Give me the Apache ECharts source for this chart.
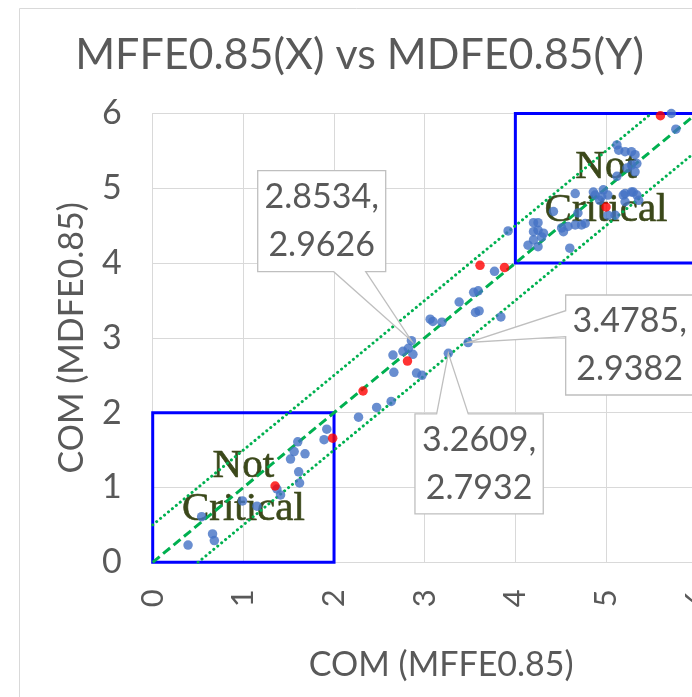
<!DOCTYPE html>
<html><head><meta charset="utf-8">
<script src="https://cdn.jsdelivr.net/npm/echarts@6/dist/echarts.min.js"></script>
<style>html,body{margin:0;padding:0;background:#fff}#c{width:692px;height:697px}</style>
</head><body><div id="c"></div>
<script>
// ---- data ----
const blueX = [0.39,0.66,0.68,0.54,0.99,1.15,1.41,1.37,1.62,1.61,1.52,1.56,1.68,1.60,1.89,1.92,
  2.27,2.47,2.63,2.66,2.65,2.76,2.82,2.87,2.8534,2.91,2.97,3.06,3.09,3.19,3.2609,3.4785,3.38,3.54,3.59,3.56,3.60,3.84,3.77,3.92,
  4.14,4.25,4.20,4.20,4.25,4.31,4.29,4.20,4.25,4.42,4.51,4.53,4.58,4.66,4.73,4.77,4.69,4.66,4.86,4.88,4.60,4.93,4.95,4.97,
  5.02,5.19,5.21,5.28,5.34,5.21,5.30,5.36,5.02,5.10,5.12,5.14,5.21,5.28,5.32,5.34,5.28,5.23,5.32,5.12,5.72,5.77];
const blueY = [0.23,0.38,0.29,0.61,0.82,0.75,0.90,0.98,1.06,1.21,1.38,1.48,1.45,1.61,1.64,1.78,
  1.94,2.07,2.15,2.54,2.77,2.82,2.86,2.78,2.9626,2.53,2.50,3.25,3.22,3.21,2.7932,2.9382,3.48,3.61,3.63,3.34,3.36,3.28,3.89,4.43,
  4.24,4.22,4.31,4.42,4.44,4.40,4.35,4.54,4.54,4.69,4.47,4.42,4.49,4.51,4.51,4.53,4.67,4.93,4.95,4.91,4.20,4.84,4.89,4.98,
  4.91,4.91,4.82,4.95,4.91,4.93,4.95,4.84,4.64,4.64,5.58,5.51,5.49,5.49,5.45,5.33,5.31,5.27,5.22,5.16,6.00,5.79];
const redX = [1.35,1.985,2.32,2.81,3.61,3.88,5.00,5.60];
const redY = [1.02,1.66,2.29,2.69,3.97,3.94,4.75,5.97];
const calloutX = [2.8534,3.2609,3.4785];
const calloutY = [2.9626,2.7932,2.9382];
const diagLine = [[0,0],[6,6]];
const upperBand = [[0,0.5],[5.5,6]];
const lowerBand = [[0.5,0],[6,5.5]];
const zoneX0 = [0,4], zoneY0 = [0,4], zoneX1 = [2,6], zoneY1 = [2,6];
const zoneText = 'Not\nCritical';
const axisMin = 0, axisMax = 6, axisStep = 1;
const titleText = 'MFFE0.85(X) vs MDFE0.85(Y)';
const xName = 'COM (MFFE0.85)', yName = 'COM (MDFE0.85)';

// ---- layout of callout boxes (pixel offsets from their point) ----
const calloutLayout = [
  {dx:-153.7, dy:-170, w:128, h:101, side:'bottom', a:76, b:108},
  {dx:-33.4, dy:60.6, w:128.3, h:100, side:'top', a:21.7, b:53.3},
  {dx:97.6, dy:-47.5, w:128, h:100, side:'left', a:15.7, b:41.7}
];

const FONT = 'Lato, "Open Sans", sans-serif';
const GREY = '#595959';

const blueData = blueX.map((x,i)=>[x, blueY[i]]);
const redData = redX.map((x,i)=>[x, redY[i]]);
const calloutData = calloutX.map((x,i)=>[x, calloutY[i]]);
const zoneData = zoneX0.map((x,i)=>[x, zoneY0[i], zoneX1[i], zoneY1[i]]);

const chart = echarts.init(document.getElementById('c'), null, {renderer:'canvas'});
chart.setOption({
  animation:false,
  backgroundColor:'#fff',
  graphic:[
    {type:'rect', shape:{x:19.5, y:8.5, width:720, height:720}, style:{fill:'none', stroke:'#d9d9d9', lineWidth:1}, silent:true, z:-1},
    {type:'text', x:359.5, y:55, silent:true, z:10, style:{text:titleText, fontFamily:FONT, fontSize:43, fill:GREY, align:'center', verticalAlign:'middle'}}
  ],
  grid:{left:152.7, top:113.5, width:544, height:448.8, containLabel:false, outerBoundsMode:'none'},
  xAxis:{type:'value', min:axisMin, max:axisMax, interval:axisStep,
    axisLine:{show:true, lineStyle:{color:'#d9d9d9', width:1}}, axisTick:{show:false},
    splitLine:{show:true, lineStyle:{color:'#d9d9d9', width:1}},
    axisLabel:{rotate:90, margin:27, fontSize:31, color:GREY, fontFamily:FONT, showMaxLabel:true},
    name:xName, nameLocation:'middle', nameGap:86,
    nameTextStyle:{fontFamily:FONT, fontSize:34, color:GREY, padding:[0,0,0,33]}},
  yAxis:{type:'value', min:axisMin, max:axisMax, interval:axisStep,
    axisLine:{show:true, lineStyle:{color:'#d9d9d9', width:1}}, axisTick:{show:false},
    splitLine:{show:true, lineStyle:{color:'#d9d9d9', width:1}},
    axisLabel:{margin:31, fontSize:34, color:GREY, fontFamily:FONT, showMaxLabel:true},
    name:yName, nameLocation:'middle', nameGap:64, nameRotate:90,
    nameTextStyle:{fontFamily:FONT, fontSize:34, color:GREY}},
  series:[
    {type:'custom', name:'zones', z:1, data:zoneData, clip:false,
      renderItem:function(params, api){
        const p0 = api.coord([api.value(0), api.value(1)]);
        const p1 = api.coord([api.value(2), api.value(3)]);
        const x = Math.min(p0[0],p1[0]), y = Math.min(p0[1],p1[1]);
        const w = Math.abs(p1[0]-p0[0]), h = Math.abs(p1[1]-p0[1]);
        return {type:'group', children:[
          {type:'rect', shape:{x:x, y:y, width:w, height:h}, style:{fill:'none', stroke:'#0000ff', lineWidth:3}},
          {type:'text', x:x+w/2, y:y+h/2, style:{text:zoneText, fill:'#3b481a', fontFamily:'"Liberation Serif", serif', fontSize:41, lineHeight:43, align:'center', verticalAlign:'middle', stroke:'#3b481a', lineWidth:0.6}}
        ]};
      }},
    {type:'line', data:diagLine, z:2, showSymbol:false, symbol:'none', silent:true,
      lineStyle:{color:'#00b050', width:3, type:[9,4.5]}},
    {type:'line', data:upperBand, z:2, showSymbol:false, symbol:'none', silent:true,
      lineStyle:{color:'#00b050', width:3, type:[0.1,5], cap:'round'}},
    {type:'line', data:lowerBand, z:2, showSymbol:false, symbol:'none', silent:true,
      lineStyle:{color:'#00b050', width:3, type:[0.1,5], cap:'round'}},
    {type:'scatter', data:blueData, z:3, symbolSize:9.5, itemStyle:{color:'#4472c4'}},
    {type:'scatter', data:redData, z:4, symbolSize:9.5, itemStyle:{color:'#ff0000'}},
    {type:'custom', name:'callouts', z:5, data:calloutData, clip:false,
      renderItem:function(params, api){
        const vx = api.value(0), vy = api.value(1);
        const p = api.coord([vx, vy]);
        const L = calloutLayout[params.dataIndex];
        const x0 = p[0]+L.dx, y0 = p[1]+L.dy, x1 = x0+L.w, y1 = y0+L.h;
        let pts = [[x0,y0]];
        if (L.side==='top') pts.push([x0+L.a,y0], p, [x0+L.b,y0]);
        pts.push([x1,y0],[x1,y1]);
        if (L.side==='bottom') pts.push([x0+L.b,y1], p, [x0+L.a,y1]);
        pts.push([x0,y1]);
        if (L.side==='left') pts.push([x0,y0+L.b], p, [x0,y0+L.a]);
        return {type:'group', children:[
          {type:'polygon', shape:{points:pts}, style:{fill:'#fff', stroke:'#bfbfbf', lineWidth:1.3}},
          {type:'text', x:(x0+x1)/2, y:(y0+y1)/2, style:{text:vx.toFixed(4)+',\n'+vy.toFixed(4), fill:GREY, fontFamily:FONT, fontSize:34, lineHeight:48, align:'center', verticalAlign:'middle'}}
        ]};
      }}
  ]
});
</script></body></html>
